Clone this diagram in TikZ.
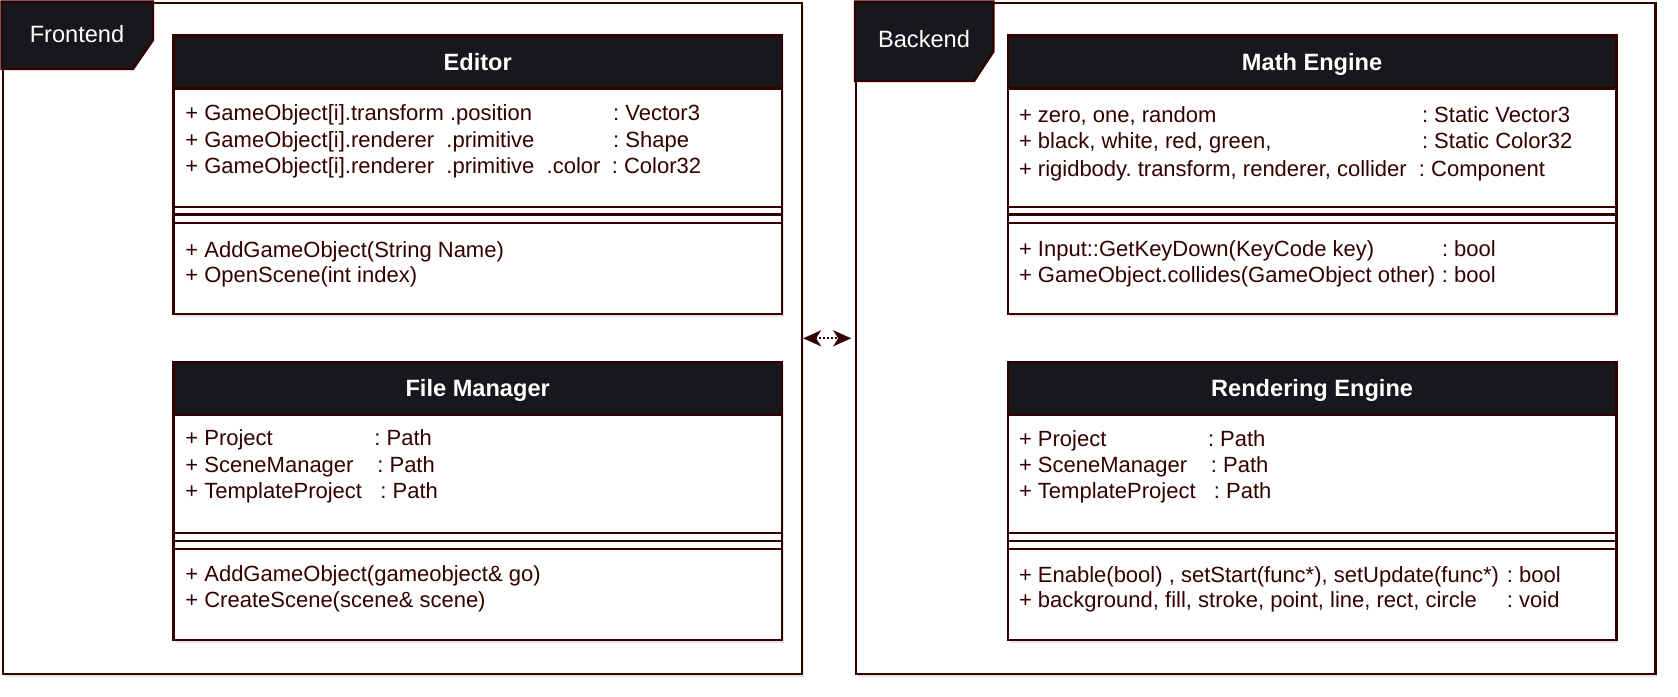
\documentclass[tikz,border=0pt]{standalone}
\usepackage{fontspec}
\setmainfont{Liberation Sans}
\usetikzlibrary{arrows.meta,shadows}
\definecolor{lnc}{HTML}{330000}
\definecolor{hdr}{HTML}{18171C}
\definecolor{txc}{HTML}{330000}
\frenchspacing
\begin{document}
\begin{tikzpicture}[x=1pt,y=-1pt,
  shd/.style={drop shadow={shadow xshift=2pt,shadow yshift=-3pt,opacity=0.10,fill=black}},
  frame/.style={rectangle,draw=lnc,line width=2.4pt,fill=white,anchor=north west,inner sep=0pt,minimum width=799.2pt,minimum height=671.2pt,shd},
  tab/.style={draw=lnc,line width=2.4pt,fill=hdr,line join=miter},
  tabtext/.style={text=white,font=\fontsize{23.6}{28}\selectfont,inner sep=0pt,text height=16.9pt,text depth=0pt},
  cbox/.style={rectangle,draw=lnc,line width=2.4pt,fill=white,anchor=north west,inner sep=0pt,minimum width=608.4pt,minimum height=278.2pt,shd},
  chead/.style={rectangle,draw=lnc,line width=2.4pt,fill=hdr,anchor=north west,inner sep=0pt,minimum width=608.4pt,minimum height=53pt,text=white,font=\bfseries\fontsize{23.6}{28}\selectfont,text height=16.9pt,text depth=0pt},
  sep/.style={draw=lnc,line width=2.4pt},
  body/.style={anchor=base west,inner sep=0pt,text=txc,font=\fontsize{22}{26}\selectfont},
  arr/.style={draw=lnc,line width=2pt,dash pattern=on 2pt off 2pt,shorten >=3.8pt,
    {Stealth[length=18pt,width=16pt,inset=5pt]}-{Stealth[length=18pt,width=16pt,inset=5pt]}}
]
\useasboundingbox (0,0) rectangle (1678,696);

% frames
\node[frame] (front) at (1.5,1.5) {};
\node[frame] (back) at (855,1.5) {};
\path[tab] (1.5,1.5) -- (153,1.5) -- (153,40) -- (133,69) -- (1.5,69) -- cycle;
\node[tabtext] (ftab) at (77,34) {Frontend};
\path[tab] (855,1.5) -- (993.3,1.5) -- (993.3,51.7) -- (974,81) -- (855,81) -- cycle;
\node[tabtext] (btab) at (924,39.5) {Backend};

% Editor
\node[cbox] (editor) at (172.3,34.3) {};
\node[chead] (editorh) at (172.3,34.3) {Editor};
\draw[sep] (editor.west |- 0,206.7) -- (editor.east |- 0,206.7);
\draw[sep] (editor.west |- 0,214.5) -- (editor.east |- 0,214.5);
\draw[sep] (editor.west |- 0,222.7) -- (editor.east |- 0,222.7);
\node[body] (e1) at (185.2,120.8) {\makebox[427.8pt][l]{+ GameObject[i].transform .position}: Vector3};
\node[body] (e2) at (185.2,147.5) {\makebox[427.8pt][l]{+ GameObject[i].renderer\ \ .primitive}: Shape};
\node[body] (e3) at (185.2,173.5) {\makebox[426.5pt][l]{+ GameObject[i].renderer\ \ .primitive\ \ .color}: Color32};
\node[body] (e4) at (185.2,257.5) {+ AddGameObject(String Name)};
\node[body] (e5) at (185.2,282.5) {+ OpenScene(int index)};

% File Manager
\node[cbox] (fm) at (172.3,360.6) {};
\node[chead] (fmh) at (172.3,360.6) {File Manager};
\draw[sep] (fm.west |- 0,532.7) -- (fm.east |- 0,532.7);
\draw[sep] (fm.west |- 0,540.7) -- (fm.east |- 0,540.7);
\draw[sep] (fm.west |- 0,548.7) -- (fm.east |- 0,548.7);
\node[body] (f1) at (185.2,445.8) {\makebox[189pt][l]{+ Project}: Path};
\node[body] (f2) at (185.2,472.5) {\makebox[192pt][l]{+ SceneManager}: Path};
\node[body] (f3) at (185.2,498.2) {\makebox[195pt][l]{+ TemplateProject}: Path};
\node[body] (f4) at (185.2,581) {+ AddGameObject(gameobject\& go)};
\node[body] (f5) at (185.2,607.5) {+ CreateScene(scene\& scene)};

% Math Engine
\node[cbox] (math) at (1006.7,34.3) {};
\node[chead] (mathh) at (1006.7,34.3) {Math Engine};
\draw[sep] (math.west |- 0,206.7) -- (math.east |- 0,206.7);
\draw[sep] (math.west |- 0,214.5) -- (math.east |- 0,214.5);
\draw[sep] (math.west |- 0,222.7) -- (math.east |- 0,222.7);
\node[body] (m1) at (1018.8,122.5) {\makebox[403pt][l]{+ zero, one, random}: Static Vector3};
\node[body] (m2) at (1018.8,148.5) {\makebox[403pt][l]{+ black, white, red, green,}: Static Color32};
\node[body] (m3) at (1018.8,176.8) {\makebox[400pt][l]{+ rigidbody. transform, renderer, collider}: Component};
\node[body] (m4) at (1018.8,256.5) {\makebox[423pt][l]{+ Input::GetKeyDown(KeyCode key)}: bool};
\node[body] (m5) at (1018.8,282.5) {\makebox[423pt][l]{+ GameObject.collides(GameObject other)}: bool};

% Rendering Engine
\node[cbox] (rend) at (1006.7,360.6) {};
\node[chead] (rendh) at (1006.7,360.6) {Rendering Engine};
\draw[sep] (rend.west |- 0,532.7) -- (rend.east |- 0,532.7);
\draw[sep] (rend.west |- 0,540.7) -- (rend.east |- 0,540.7);
\draw[sep] (rend.west |- 0,548.7) -- (rend.east |- 0,548.7);
\node[body] (r1) at (1018.8,446.5) {\makebox[189pt][l]{+ Project}: Path};
\node[body] (r2) at (1018.8,472.5) {\makebox[192pt][l]{+ SceneManager}: Path};
\node[body] (r3) at (1018.8,498.2) {\makebox[195pt][l]{+ TemplateProject}: Path};
\node[body] (r4) at (1018.8,582.5) {\makebox[488pt][l]{+ Enable(bool) , setStart(func*), setUpdate(func*)}: bool};
\node[body] (r5) at (1018.8,607.5) {\makebox[488pt][l]{+ background, fill, stroke, point, line, rect, circle}: void};

% connector
\draw[arr] (front.east) -- (back.west);
\end{tikzpicture}
\end{document}
